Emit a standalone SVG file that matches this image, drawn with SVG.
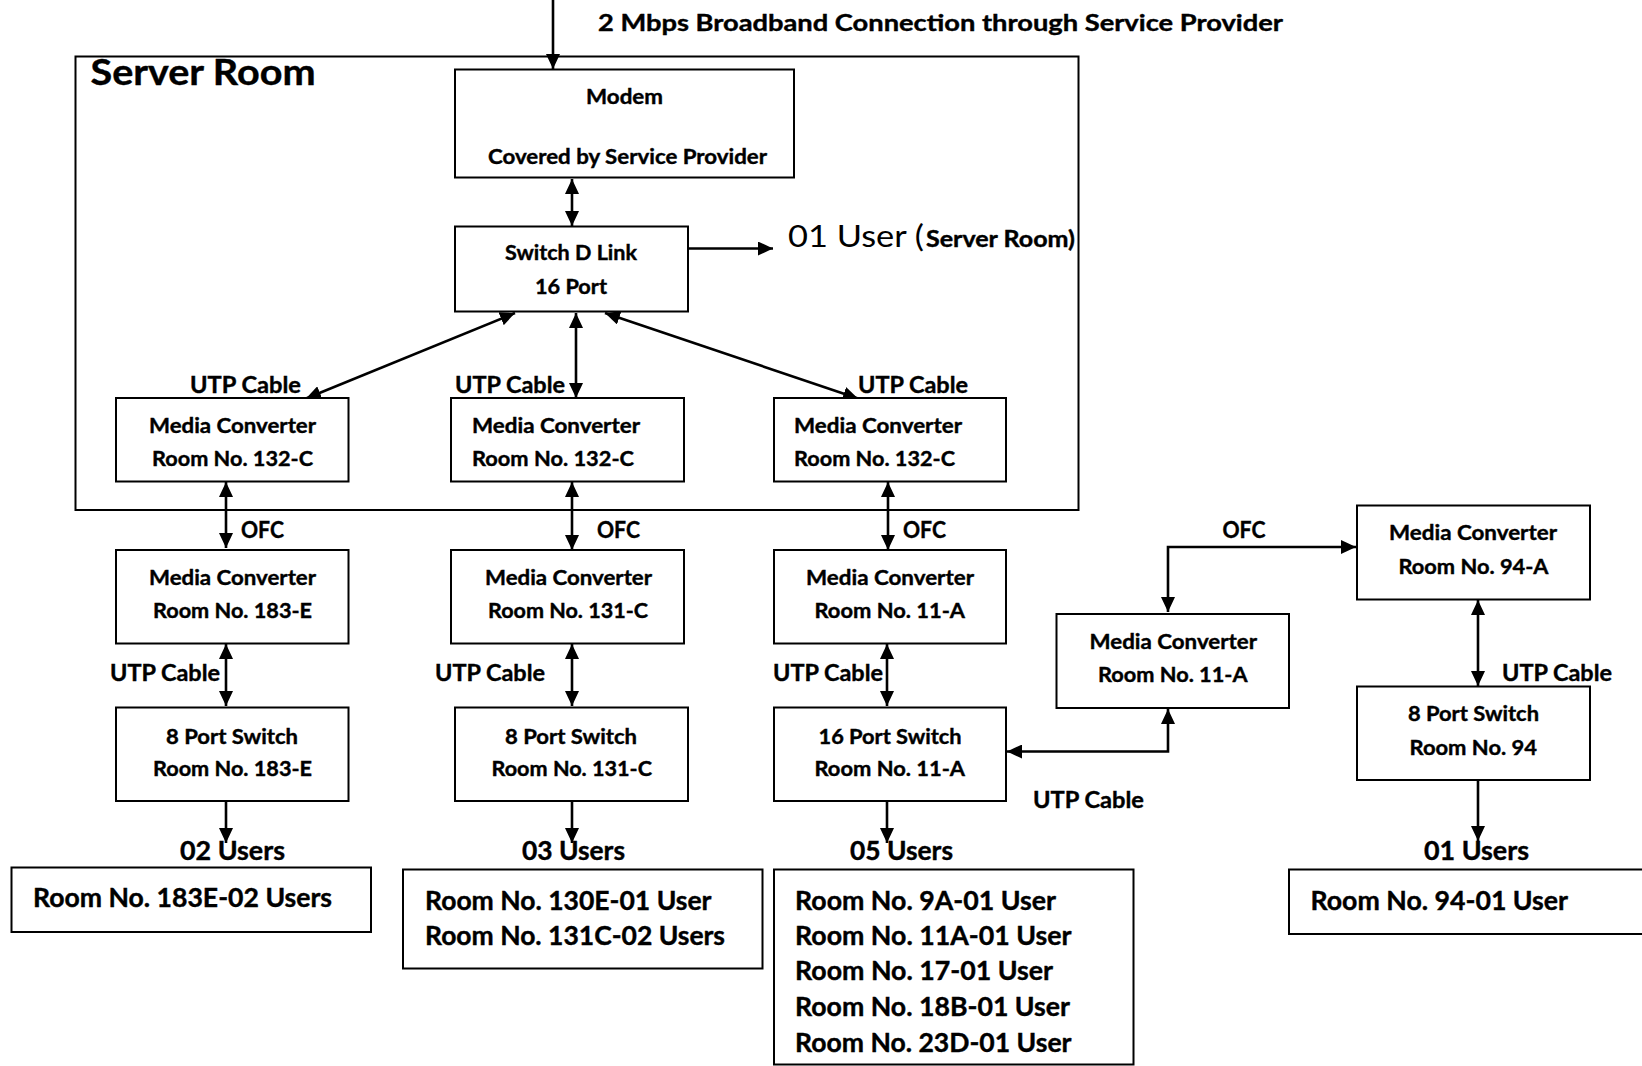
<svg xmlns="http://www.w3.org/2000/svg" width="1642" height="1066" viewBox="0 0 1642 1066">
  <defs>
    <style>
      .box { fill: #ffffff; stroke: #000000; stroke-width: 2; }
      .frame { fill: none; stroke: #000000; stroke-width: 2; }
      .wire { fill: none; stroke: #000000; stroke-width: 2.6; }
      text { font-family: Lato, "Liberation Sans", sans-serif; font-weight: bold; fill: #000000; stroke: #000000; stroke-width: 0.4; }
      .node { font-size: 21px; }
      .lbl { font-size: 23px; }
      .users { font-size: 26px; }
      .list { font-size: 26px; }
      .title { font-size: 23px; }
      .room { font-size: 36px; }
      .plain { font-size: 30px; font-weight: normal; stroke-width: 0; }
      .sub { font-size: 22px; }
    </style>
    <marker id="ah" markerUnits="userSpaceOnUse" markerWidth="15" markerHeight="14" refX="15" refY="7" orient="auto-start-reverse">
      <path d="M0,0 L15,7 L0,14 z" fill="#000000"/>
    </marker>
  </defs>

  <rect width="1642" height="1066" fill="#ffffff"/>

  <!-- heading and server room enclosure -->
  <text class="title" x="598" y="30.5" textLength="685" lengthAdjust="spacingAndGlyphs">2 Mbps Broadband Connection through Service Provider</text>
  <g id="server-room">
    <rect class="frame" x="75.5" y="56.5" width="1003" height="453.5"/>
    <text class="room" x="90.5" y="85" textLength="225" lengthAdjust="spacingAndGlyphs">Server Room</text>
  </g>

  <!-- connectors -->
  <g id="connectors" marker-end="url(#ah)">
    <path class="wire" d="M553,0 L553,69"/>
    <path class="wire" d="M572,179 L572,226" marker-start="url(#ah)"/>
    <path class="wire" d="M688,248.5 L773,248.5"/>
    <path class="wire" d="M515,313 L306,398.5" marker-start="url(#ah)"/>
    <path class="wire" d="M576,313 L576,398" marker-start="url(#ah)"/>
    <path class="wire" d="M605,313 L858,398.5" marker-start="url(#ah)"/>
    <path class="wire" d="M226,482 L226,548" marker-start="url(#ah)"/>
    <path class="wire" d="M572,482 L572,550" marker-start="url(#ah)"/>
    <path class="wire" d="M888,482 L888,550" marker-start="url(#ah)"/>
    <path class="wire" d="M226,644 L226,706" marker-start="url(#ah)"/>
    <path class="wire" d="M572,644 L572,706" marker-start="url(#ah)"/>
    <path class="wire" d="M887,644 L887,706" marker-start="url(#ah)"/>
    <path class="wire" d="M226,801 L226,843"/>
    <path class="wire" d="M572,801 L572,843"/>
    <path class="wire" d="M887,801 L887,843"/>
    <path class="wire" d="M1168,612 L1168,547 L1356,547" marker-start="url(#ah)"/>
    <path class="wire" d="M1007,751.5 L1168,751.5 L1168,709" marker-start="url(#ah)"/>
    <path class="wire" d="M1478,600 L1478,686" marker-start="url(#ah)"/>
    <path class="wire" d="M1478,780 L1478,841"/>
  </g>

  <!-- connector labels -->
  <g id="labels" class="lbl">
    <text x="190" y="393" textLength="111" lengthAdjust="spacingAndGlyphs">UTP Cable</text>
    <text x="455" y="393" textLength="110" lengthAdjust="spacingAndGlyphs">UTP Cable</text>
    <text x="858" y="393" textLength="110" lengthAdjust="spacingAndGlyphs">UTP Cable</text>
    <text x="241" y="538" textLength="43" lengthAdjust="spacingAndGlyphs">OFC</text>
    <text x="597" y="538" textLength="43" lengthAdjust="spacingAndGlyphs">OFC</text>
    <text x="903" y="538" textLength="43" lengthAdjust="spacingAndGlyphs">OFC</text>
    <text x="1222.5" y="538" textLength="43" lengthAdjust="spacingAndGlyphs">OFC</text>
    <text x="110" y="681" textLength="110" lengthAdjust="spacingAndGlyphs">UTP Cable</text>
    <text x="435" y="681" textLength="110" lengthAdjust="spacingAndGlyphs">UTP Cable</text>
    <text x="773" y="681" textLength="110" lengthAdjust="spacingAndGlyphs">UTP Cable</text>
    <text x="1502" y="681" textLength="110" lengthAdjust="spacingAndGlyphs">UTP Cable</text>
    <text x="1033" y="808" textLength="111" lengthAdjust="spacingAndGlyphs">UTP Cable</text>
  </g>

  <!-- server room equipment -->
  <g id="modem">
    <rect class="box" x="455" y="69.5" width="339" height="108"/>
    <text class="node" x="586" y="104" textLength="77" lengthAdjust="spacingAndGlyphs">Modem</text>
    <text class="node" x="488" y="164" textLength="279" lengthAdjust="spacingAndGlyphs">Covered by Service Provider</text>
  </g>
  <g id="switch-dlink">
    <rect class="box" x="455" y="226.5" width="233" height="85"/>
    <text class="node" x="505" y="260" textLength="132" lengthAdjust="spacingAndGlyphs">Switch D Link</text>
    <text class="node" x="535" y="294" textLength="72" lengthAdjust="spacingAndGlyphs">16 Port</text>
  </g>
  <g id="server-user">
    <text class="plain" x="788" y="246.5" textLength="136" lengthAdjust="spacingAndGlyphs">01 User (</text>
    <text class="sub" x="926" y="246.5" textLength="149" lengthAdjust="spacingAndGlyphs">Server Room)</text>
  </g>
  <g id="mc-132c-a">
    <rect class="box" x="116" y="398" width="232.5" height="83.5"/>
    <text class="node" x="149" y="432.5" textLength="167" lengthAdjust="spacingAndGlyphs">Media Converter</text>
    <text class="node" x="152" y="466" textLength="161" lengthAdjust="spacingAndGlyphs">Room No. 132-C</text>
  </g>
  <g id="mc-132c-b">
    <rect class="box" x="451" y="398" width="233" height="83.5"/>
    <text class="node" x="472" y="432.5" textLength="168" lengthAdjust="spacingAndGlyphs">Media Converter</text>
    <text class="node" x="472" y="466" textLength="162" lengthAdjust="spacingAndGlyphs">Room No. 132-C</text>
  </g>
  <g id="mc-132c-c">
    <rect class="box" x="774" y="398" width="232" height="83.5"/>
    <text class="node" x="794" y="432.5" textLength="168" lengthAdjust="spacingAndGlyphs">Media Converter</text>
    <text class="node" x="794" y="466" textLength="161" lengthAdjust="spacingAndGlyphs">Room No. 132-C</text>
  </g>

  <!-- remote media converters -->
  <g id="mc-183e">
    <rect class="box" x="116" y="550" width="232.5" height="93.5"/>
    <text class="node" x="149" y="584.5" textLength="167" lengthAdjust="spacingAndGlyphs">Media Converter</text>
    <text class="node" x="153" y="618" textLength="159" lengthAdjust="spacingAndGlyphs">Room No. 183-E</text>
  </g>
  <g id="mc-131c">
    <rect class="box" x="451" y="550" width="233" height="93.5"/>
    <text class="node" x="485" y="584.5" textLength="167" lengthAdjust="spacingAndGlyphs">Media Converter</text>
    <text class="node" x="488" y="618" textLength="160" lengthAdjust="spacingAndGlyphs">Room No. 131-C</text>
  </g>
  <g id="mc-11a">
    <rect class="box" x="774" y="550" width="232" height="93.5"/>
    <text class="node" x="806" y="584.5" textLength="168" lengthAdjust="spacingAndGlyphs">Media Converter</text>
    <text class="node" x="814.5" y="618" textLength="150.5" lengthAdjust="spacingAndGlyphs">Room No. 11-A</text>
  </g>

  <!-- room switches -->
  <g id="sw-183e">
    <rect class="box" x="116" y="707.5" width="232.5" height="93.5"/>
    <text class="node" x="166" y="743.5" textLength="132" lengthAdjust="spacingAndGlyphs">8 Port Switch</text>
    <text class="node" x="153" y="776" textLength="159" lengthAdjust="spacingAndGlyphs">Room No. 183-E</text>
  </g>
  <g id="sw-131c">
    <rect class="box" x="455" y="707.5" width="233" height="93.5"/>
    <text class="node" x="505" y="743.5" textLength="132" lengthAdjust="spacingAndGlyphs">8 Port Switch</text>
    <text class="node" x="491.5" y="776" textLength="160.5" lengthAdjust="spacingAndGlyphs">Room No. 131-C</text>
  </g>
  <g id="sw-11a">
    <rect class="box" x="774" y="707.5" width="232" height="93.5"/>
    <text class="node" x="818.5" y="743.5" textLength="143" lengthAdjust="spacingAndGlyphs">16 Port Switch</text>
    <text class="node" x="814.5" y="776" textLength="150.5" lengthAdjust="spacingAndGlyphs">Room No. 11-A</text>
  </g>

  <!-- 11-A to 94-A fibre link -->
  <g id="mc-11a-b">
    <rect class="box" x="1056.5" y="614" width="232.5" height="94"/>
    <text class="node" x="1089.5" y="649" textLength="167.5" lengthAdjust="spacingAndGlyphs">Media Converter</text>
    <text class="node" x="1098" y="682" textLength="149.5" lengthAdjust="spacingAndGlyphs">Room No. 11-A</text>
  </g>
  <g id="mc-94a">
    <rect class="box" x="1357" y="505.5" width="233" height="94"/>
    <text class="node" x="1389" y="540" textLength="168" lengthAdjust="spacingAndGlyphs">Media Converter</text>
    <text class="node" x="1398.5" y="573.5" textLength="150" lengthAdjust="spacingAndGlyphs">Room No. 94-A</text>
  </g>
  <g id="sw-94">
    <rect class="box" x="1357" y="686.5" width="233" height="93.5"/>
    <text class="node" x="1408" y="721" textLength="131" lengthAdjust="spacingAndGlyphs">8 Port Switch</text>
    <text class="node" x="1409.5" y="755" textLength="127.5" lengthAdjust="spacingAndGlyphs">Room No. 94</text>
  </g>

  <!-- user counts -->
  <g id="user-counts" class="users">
    <text x="180" y="859.5" textLength="105" lengthAdjust="spacingAndGlyphs">02 Users</text>
    <text x="522" y="859.5" textLength="103" lengthAdjust="spacingAndGlyphs">03 Users</text>
    <text x="850" y="859.5" textLength="103" lengthAdjust="spacingAndGlyphs">05 Users</text>
    <text x="1424" y="859.5" textLength="105" lengthAdjust="spacingAndGlyphs">01 Users</text>
  </g>

  <!-- user room lists -->
  <g id="users-183e">
    <rect class="box" x="11.5" y="867.5" width="359.5" height="64.5"/>
    <text class="list" x="33" y="907" textLength="299" lengthAdjust="spacingAndGlyphs">Room No. 183E-02 Users</text>
  </g>
  <g id="users-131c">
    <rect class="box" x="403" y="869.5" width="359.5" height="99"/>
    <text class="list" x="425" y="909.5" textLength="286.5" lengthAdjust="spacingAndGlyphs">Room No. 130E-01 User</text>
    <text class="list" x="425" y="944.5" textLength="300" lengthAdjust="spacingAndGlyphs">Room No. 131C-02 Users</text>
  </g>
  <g id="users-11a">
    <rect class="box" x="774" y="869.5" width="359.5" height="195"/>
    <text class="list" x="795" y="909.5" textLength="261" lengthAdjust="spacingAndGlyphs">Room No. 9A-01 User</text>
    <text class="list" x="795" y="944.5" textLength="276.5" lengthAdjust="spacingAndGlyphs">Room No. 11A-01 User</text>
    <text class="list" x="795" y="980" textLength="258" lengthAdjust="spacingAndGlyphs">Room No. 17-01 User</text>
    <text class="list" x="795" y="1015.5" textLength="275" lengthAdjust="spacingAndGlyphs">Room No. 18B-01 User</text>
    <text class="list" x="795" y="1051.5" textLength="276.5" lengthAdjust="spacingAndGlyphs">Room No. 23D-01 User</text>
  </g>
  <g id="users-94">
    <rect class="box" x="1289" y="869.5" width="365" height="64.5"/>
    <text class="list" x="1310.5" y="909.5" textLength="257.5" lengthAdjust="spacingAndGlyphs">Room No. 94-01 User</text>
  </g>
</svg>
